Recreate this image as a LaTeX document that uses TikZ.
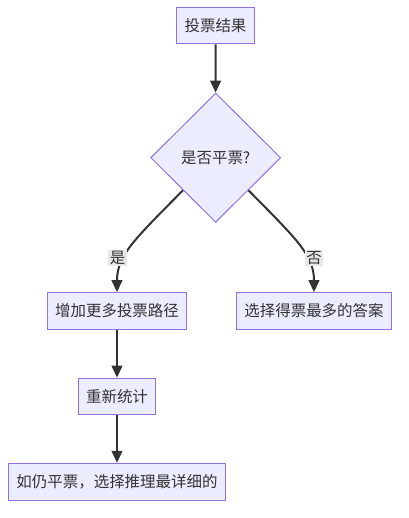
\documentclass[tikz,border=0pt]{standalone}
\usepackage{fontspec}
\setmainfont{Noto Sans CJK SC}
\usetikzlibrary{shapes.geometric, arrows.meta}
\definecolor{boxfill}{HTML}{ECECFF}
\definecolor{boxline}{HTML}{9370DB}
\definecolor{ink}{HTML}{333333}
\definecolor{lblbg}{HTML}{E8E8E8}
\tikzset{
  stepbox/.style={draw=boxline, fill=boxfill, line width=0.75pt, text=ink,
    inner xsep=6pt, inner ysep=0pt, minimum height=27.5pt,
    font=\fontsize{11.6pt}{14pt}\selectfont},
  choice/.style={diamond, draw=boxline, fill=boxfill, line width=0.75pt, text=ink,
    inner sep=0pt, minimum width=97.5pt, minimum height=97pt,
    font=\fontsize{11.6pt}{14pt}\selectfont},
  flow/.style={draw=ink, line width=1.5pt, -{Triangle[length=9pt,width=8pt]}},
  lbl/.style={fill=lblbg, text=ink, inner sep=1pt,
    font=\fontsize{11.6pt}{14pt}\selectfont}
}

\begin{document}
\begin{tikzpicture}[x=0.75pt, y=-0.75pt]
\useasboundingbox (0,0) rectangle (408,518);
\node[stepbox] (result) at (215.5,25.5) {投票结果};
\node[choice] (tie) at (215.7,157.7) {是否平票?};
\node[stepbox] (more) at (117,311) {增加更多投票路径};
\node[stepbox] (best) at (314,311) {选择得票最多的答案};
\node[stepbox] (recount) at (117,396.5) {重新统计};
\node[stepbox] (detail) at (117,481.7) {如仍平票，选择推理最详细的};

\draw[flow] (result) -- (tie);
\draw[flow] (tie.south west) .. controls (135,239) and (117,255) .. (more.north);
\draw[flow] (tie.south east) .. controls (296.4,239) and (314,255) .. (best.north);
\draw[flow] (more) -- (recount);
\draw[flow] (recount) -- (detail);

\node[lbl] (yes) at (117.5,258) {是};
\node[lbl] (no) at (314,258) {否};
\end{tikzpicture}
\end{document}
